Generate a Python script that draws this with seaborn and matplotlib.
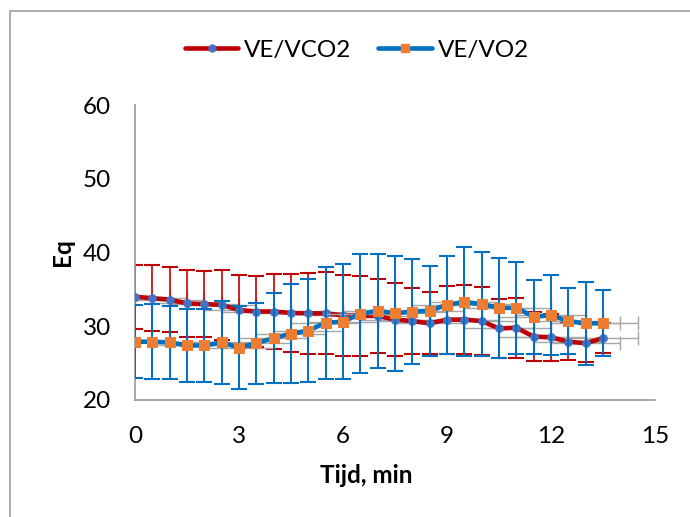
import seaborn as sns
import pandas as pd
import matplotlib.pyplot as plt
from matplotlib.ticker import MultipleLocator
from matplotlib.lines import Line2D

# time points (min)
tijd = [0, 0.5, 1, 1.5, 2, 2.5, 3, 3.5, 4, 4.5, 5, 5.5, 6, 6.5,
        7, 7.5, 8, 8.5, 9, 9.5, 10, 10.5, 11, 11.5, 12, 12.5, 13, 13.5]
tijd_sd = [1.0] * len(tijd)

ve_vco2 = [34.0, 33.8, 33.6, 33.1, 33.0, 32.9, 32.2, 32.0, 32.0, 31.8, 31.75, 31.75, 31.5, 31.4,
           31.4, 30.9, 30.7, 30.4, 30.9, 30.9, 30.7, 29.7, 29.8, 28.6, 28.5, 27.9, 27.7, 28.4]
ve_vco2_sd = [4.35, 4.5, 4.4, 4.5, 4.5, 4.7, 4.8, 4.8, 5.05, 5.3, 5.5, 5.55, 5.5, 5.4,
              5.0, 4.9, 4.45, 4.2, 4.6, 4.7, 4.65, 4.05, 4.05, 3.35, 3.2, 2.5, 2.6, 2.0]

ve_vo2 = [27.9, 27.9, 27.8, 27.4, 27.4, 27.8, 27.1, 27.7, 28.4, 29.0, 29.4, 30.5, 30.6, 31.7,
          32.1, 31.75, 32.0, 32.1, 32.9, 33.3, 33.0, 32.5, 32.5, 31.3, 31.5, 30.7, 30.4, 30.4]
ve_vo2_sd = [4.95, 5.1, 4.9, 4.9, 5.0, 5.6, 5.6, 5.5, 6.1, 6.7, 6.95, 7.6, 7.8, 8.1,
             7.7, 7.75, 7.1, 6.1, 6.6, 7.4, 7.05, 6.8, 6.25, 5.0, 5.4, 4.5, 5.65, 4.45]

df = pd.DataFrame({"Tijd": tijd, "VE/VCO2": ve_vco2, "VE/VO2": ve_vo2})

red = "#C00000"
blue = "#0070C0"
gray = "#A6A6A6"

sns.set_style("white")
plt.rcParams["font.family"] = ["Lato", "DejaVu Sans"]
plt.rcParams["text.color"] = "black"
plt.rcParams["xtick.labelcolor"] = "black"
plt.rcParams["ytick.labelcolor"] = "black"
plt.rcParams["axes.labelcolor"] = "black"

fs = 17.5

fig = plt.figure(figsize=(6.9, 5.17), dpi=100)
ax = fig.add_axes([135 / 690, 1 - 400 / 517, 520 / 690, 295 / 517])

# VE/VCO2 series
ax.errorbar(tijd, ve_vco2, xerr=tijd_sd, fmt="none", ecolor=gray, elinewidth=1,
            capsize=5, capthick=1, zorder=1)
ax.errorbar(tijd, ve_vco2, yerr=ve_vco2_sd, fmt="none", ecolor=red, elinewidth=1.2,
            capsize=5.5, capthick=1.5, zorder=2)
sns.lineplot(data=df, x="Tijd", y="VE/VCO2", ax=ax, color=red, linewidth=3.3,
             marker="o", markersize=5.5, markerfacecolor="#4472C4",
             markeredgecolor="#4472C4", zorder=3)

# VE/VO2 series
ax.errorbar(tijd, ve_vo2, xerr=tijd_sd, fmt="none", ecolor=gray, elinewidth=1,
            capsize=5, capthick=1, zorder=4)
ax.errorbar(tijd, ve_vo2, yerr=ve_vo2_sd, fmt="none", ecolor=blue, elinewidth=1.4,
            capsize=5.5, capthick=1.5, zorder=5)
sns.lineplot(data=df, x="Tijd", y="VE/VO2", ax=ax, color=blue, linewidth=3.3,
             marker="s", markersize=7, markerfacecolor="#ED7D31",
             markeredgecolor="#ED7D31", zorder=6)

ax.set_xlim(0, 15)
ax.set_ylim(20, 60)
ax.xaxis.set_major_locator(MultipleLocator(3))
ax.xaxis.set_minor_locator(MultipleLocator(1))
ax.yaxis.set_major_locator(MultipleLocator(10))
ax.yaxis.set_minor_locator(MultipleLocator(2))

for side in ["top", "right"]:
    ax.spines[side].set_visible(False)
for side in ["left", "bottom"]:
    ax.spines[side].set_color("#999999")
    ax.spines[side].set_linewidth(1.2)

ax.tick_params(which="major", direction="inout", length=15, width=1.2, color="#999999",
               labelsize=fs)
ax.tick_params(which="minor", direction="out", length=5, width=1.2, color="#999999")
ax.tick_params(axis="x", which="major", pad=11)
ax.tick_params(axis="y", which="major", pad=10)

ax.set_xlabel("Tijd, min", fontsize=fs, fontweight="bold", va="center")
ax.set_ylabel("Eq", fontsize=fs, fontweight="bold", va="center")
ax.xaxis.set_label_coords(0.444, -0.255)
ax.yaxis.set_label_coords(-0.139, 0.5)

handles = [
    Line2D([], [], color=red, linewidth=3.3, marker="o", markersize=5,
           markerfacecolor="#4472C4", markeredgecolor="#4472C4"),
    Line2D([], [], color=blue, linewidth=3.3, marker="s", markersize=6,
           markerfacecolor="#ED7D31", markeredgecolor="#ED7D31"),
]
fig.legend(handles, ["VE/VCO2", "VE/VO2"], loc="center", bbox_to_anchor=(357 / 690, 1 - 50 / 517),
           ncol=2, frameon=False, fontsize=fs, handlelength=2.2, handletextpad=0.25,
           columnspacing=1.1)

# chart area border (top and left visible)
fig.add_artist(Line2D([10 / 690, 1], [1 - 11 / 517, 1 - 11 / 517], color="#A0A0A0", linewidth=1.2))
fig.add_artist(Line2D([10 / 690, 10 / 690], [0, 1 - 11 / 517], color="#A0A0A0", linewidth=1.2))

fig.savefig("out.png", dpi=100)
